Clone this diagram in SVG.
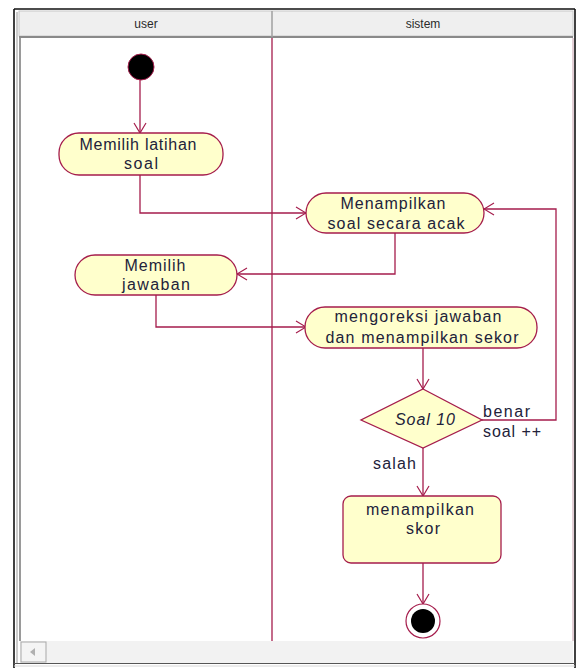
<svg xmlns="http://www.w3.org/2000/svg" width="585" height="668" viewBox="0 0 585 668">
  <style>
    .frame { fill: none; stroke: #111; stroke-width: 1.6; }
    .lane { stroke: #a51d4c; stroke-width: 1.3; fill: none; }
    .act { fill: #ffffcc; stroke: #a51d4c; stroke-width: 1.3; }
    .flow { fill: none; stroke: #a51d4c; stroke-width: 1.3; }
    .lbl { font-family: "Liberation Sans", Arial, sans-serif; font-size: 16px; fill: #22223a; text-anchor: middle; }
    .guard { font-family: "Liberation Sans", Arial, sans-serif; font-size: 16px; fill: #22223a; }
    .head { font-family: "Liberation Sans", Arial, sans-serif; font-size: 12px; fill: #2a2a2a; text-anchor: middle; }
  </style>
  <defs>
    <marker id="open" markerWidth="12" markerHeight="14" refX="11" refY="7" orient="auto" markerUnits="userSpaceOnUse">
      <path d="M1,1 L11,7 L1,13" fill="none" stroke="#a51d4c" stroke-width="1.2"/>
    </marker>
  </defs>

  <!-- window background and frame -->
  <rect x="0" y="0" width="585" height="668" fill="#fff"/>
  <line x1="14" y1="9" x2="14" y2="668" class="frame"/>
  <line x1="14" y1="9" x2="575" y2="9" class="frame"/>
  <line x1="575" y1="9" x2="575" y2="668" class="frame"/>
  <line x1="17" y1="12" x2="17" y2="664" stroke="#9a9a9a" stroke-width="1"/>

  <!-- swimlane header -->
  <g id="header">
    <rect x="19" y="11" width="554" height="25" fill="#efefef" stroke="#c8c8c8" stroke-width="1"/>
    <line x1="19" y1="37" x2="573" y2="37" stroke="#8a8a8a" stroke-width="2"/>
    <line x1="272" y1="11" x2="272" y2="37" stroke="#a0a0a0" stroke-width="1.5"/>
    <text x="146" y="28" class="head">user</text>
    <text x="423" y="28" class="head">sistem</text>
  </g>

  <!-- lane borders -->
  <line x1="20" y1="38" x2="20" y2="641" stroke="#9a9a9a" stroke-width="2"/>
  <line x1="272" y1="38" x2="272" y2="641" class="lane"/>
  <line x1="573" y1="38" x2="573" y2="641" stroke="#c7a0ad" stroke-width="1"/>

  <!-- connectors -->
  <g id="connectors">
    <path d="M140,79 L140,133" class="flow" marker-end="url(#open)"/>
    <path d="M140,175 L140,213 L306,213" class="flow" marker-end="url(#open)"/>
    <path d="M395,233 L395,274 L237,274" class="flow" marker-end="url(#open)"/>
    <path d="M156,295 L156,327 L306,327" class="flow" marker-end="url(#open)"/>
    <path d="M423,348 L423,389" class="flow" marker-end="url(#open)"/>
    <path d="M482,420 L556,420 L556,209 L484,209" class="flow" marker-end="url(#open)"/>
    <path d="M423,448 L423,496" class="flow" marker-end="url(#open)"/>
    <path d="M423,563 L423,604" class="flow" marker-end="url(#open)"/>
    <text x="483" y="417" class="guard" textLength="47" lengthAdjust="spacing">benar</text>
    <text x="483" y="437" class="guard" textLength="58" lengthAdjust="spacing">soal ++</text>
    <text x="373" y="469" class="guard" textLength="43" lengthAdjust="spacing">salah</text>
  </g>

  <!-- start -->
  <g id="start">
    <circle cx="141" cy="67" r="13" fill="#000" stroke="#a51d4c" stroke-width="1"/>
  </g>

  <g id="pilihLatihan">
    <rect x="59" y="133" width="164" height="42" rx="20" ry="20" class="act"/>
    <text x="138" y="150" class="lbl" textLength="117" lengthAdjust="spacing">Memilih latihan</text>
    <text x="141" y="169" class="lbl" textLength="34" lengthAdjust="spacing">soal</text>
  </g>

  <g id="tampilSoal">
    <rect x="306" y="193" width="178" height="40" rx="20" ry="20" class="act"/>
    <text x="393" y="209" class="lbl" textLength="105" lengthAdjust="spacing">Menampilkan</text>
    <text x="396" y="229" class="lbl" textLength="137" lengthAdjust="spacing">soal secara acak</text>
  </g>

  <g id="pilihJawaban">
    <rect x="75" y="255" width="162" height="40" rx="20" ry="20" class="act"/>
    <text x="155" y="271" class="lbl" textLength="61" lengthAdjust="spacing">Memilih</text>
    <text x="156" y="290" class="lbl" textLength="68" lengthAdjust="spacing">jawaban</text>
  </g>

  <g id="koreksi">
    <rect x="305" y="307" width="232" height="41" rx="20" ry="20" class="act"/>
    <text x="418" y="322" class="lbl" textLength="167" lengthAdjust="spacing">mengoreksi jawaban</text>
    <text x="422" y="343" class="lbl" textLength="193" lengthAdjust="spacing">dan menampilkan sekor</text>
  </g>

  <g id="cekSoal">
    <polygon points="423,389 482,420 423,448 361,420" class="act"/>
    <text x="425" y="425" class="lbl" font-style="italic" textLength="60" lengthAdjust="spacing">Soal 10</text>
  </g>

  <g id="tampilSkor">
    <rect x="343" y="496" width="158" height="67" rx="8" ry="8" class="act"/>
    <text x="420" y="515" class="lbl" textLength="108" lengthAdjust="spacing">menampilkan</text>
    <text x="423" y="534" class="lbl" textLength="34" lengthAdjust="spacing">skor</text>
  </g>

  <g id="end">
    <circle cx="423" cy="621" r="17" fill="#fff" stroke="#a51d4c" stroke-width="1.2"/>
    <circle cx="423" cy="621" r="12" fill="#000"/>
  </g>

  <!-- horizontal scrollbar -->
  <g id="scrollbar">
    <rect x="20" y="641" width="553" height="22" fill="#f2f2f2"/>
    <rect x="21" y="642" width="25" height="20" fill="#f4f4f4" stroke="#a8a8a8" stroke-width="1"/>
    <polygon points="35,648 35,656 30,652" fill="#b0b0b0"/>
    <line x1="14" y1="663.5" x2="575" y2="663.5" stroke="#555" stroke-width="1"/>
    <line x1="14" y1="666" x2="575" y2="666" stroke="#d8d8d8" stroke-width="1"/>
  </g>
</svg>
